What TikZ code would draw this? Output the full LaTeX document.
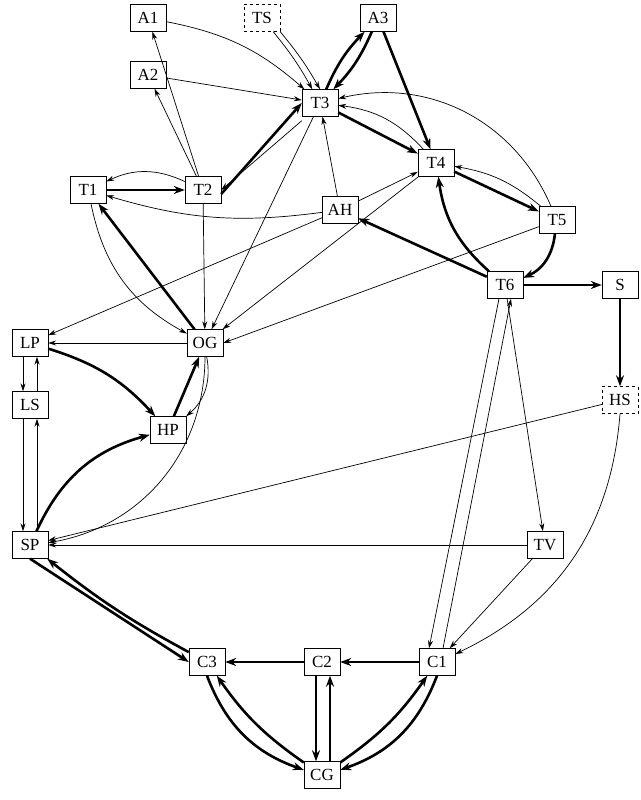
\documentclass[tikz,border=0pt]{standalone}
\usepackage{fontspec}
\setmainfont{Liberation Serif}
\usetikzlibrary{arrows.meta}
\begin{document}
\begin{tikzpicture}[x=1pt,y=-1pt,
 nd/.style={draw,fill=white,font=\fontsize{17}{19}\selectfont,minimum width=36pt,minimum height=27pt,inner sep=2pt},
 dnd/.style={nd,dashed},
 tn/.style={-{Stealth[length=8pt,width=5pt]},line width=0.7pt},
 tk/.style={-{Stealth[length=11pt,width=8pt]},line width=2.6pt}]
\useasboundingbox (0,0) rectangle (640,800);
\node[nd] (A1) at (148,18) {A1};
\node[dnd] (TS) at (262,18) {TS};
\node[nd] (A3) at (378,18) {A3};
\node[nd] (A2) at (148,75) {A2};
\node[nd] (T3) at (320,103) {T3};
\node[nd] (T1) at (88,190) {T1};
\node[nd] (T2) at (203,190) {T2};
\node[nd] (AH) at (340,210) {AH};
\node[nd] (T4) at (436,163) {T4};
\node[nd] (T5) at (557,220) {T5};
\node[nd] (T6) at (505,285) {T6};
\node[nd] (S) at (620,285) {S};
\node[nd] (LP) at (30,343) {LP};
\node[nd] (OG) at (205,343) {OG};
\node[dnd] (HS) at (620,400) {HS};
\node[nd] (LS) at (30,405) {LS};
\node[nd] (HP) at (168,430) {HP};
\node[nd] (SP) at (30,545) {SP};
\node[nd] (TV) at (545,545) {TV};
\node[nd] (C3) at (207,662) {C3};
\node[nd] (C2) at (322,662) {C2};
\node[nd] (C1) at (437,662) {C1};
\node[nd] (CG) at (322,775) {CG};
% thin
\draw[tn] (T2) -- (A1);
\draw[tn] (A1) to[bend left=15] (T3);
\draw[tn] (A2) -- (T3);
\draw[tn] (T2) -- (A2);
\draw[tn] (TS) to[bend left=5] (T3);
\draw[tn] (TS.south east) to[bend left=5] (T3.north);
\draw[tn] (T4) to[bend right=20] (T3);
\draw[tn] ([yshift=-4pt]T3.south west) -- (T2.east);
\draw[tn] (T2) to[bend right=25] (T1);
\draw[tn] (AH) to[bend left=12] (T1);
\draw[tn] (AH) -- (T3);
\draw[tn] (AH) -- (T4);
\draw[tn] (T4) -- (OG);
\draw[tn] (T3) -- (OG);
\draw[tn] (T2) -- (OG);
\draw[tn] (T1) to[bend right=25] (OG);
\draw[tn] (T5) to[bend right=40] (T3);
\draw[tn] (T5) to[bend left=-15] (T4);
\draw[tn] (T5) -- (OG.east);
\draw[tn] (AH) -- (LP);
\draw[tn] (OG) -- (LP);
\draw[tn] (OG) to[bend left=30] (HP);
\draw[tn] (OG.south) to[bend left=40] (SP);
\draw[tn] ([xshift=-7pt]LP.south) -- ([xshift=-7pt]LS.north);
\draw[tn] ([xshift=7pt]LS.north) -- ([xshift=7pt]LP.south);
\draw[tn] ([xshift=-7pt]LS.south) -- ([xshift=-7pt]SP.north);
\draw[tn] ([xshift=7pt]SP.north) -- ([xshift=7pt]LS.south);
\draw[tn] (HS) -- (SP);
\draw[tn] (TV) -- (SP);
\draw[tn] (HS.south) to[bend left=30] (C1);
\draw[tn] (T6) -- (TV);
\draw[tn] ([xshift=-6pt]T6.south) -- ([xshift=-8pt]C1.north);
\draw[tn] ([xshift=6pt]C1.north) -- ([xshift=6pt]T6.south);
\draw[tn] (TV) -- (C1);
% thick
\draw[tk] (T3) to[bend left=10] (A3);
\draw[tk] (A3) to[bend left=10] (T3);
\draw[tk] (A3) -- (T4);
\draw[tk] (T3) -- (T4);
\draw[tk] ([yshift=-4pt]T2.east) -- (T3.west);
\draw[tk] (T1) -- (T2);
\draw[tk] (OG) -- (T1);
\draw[tk] (T4) -- (T5);
\draw[tk] (T5) to[bend left=30] (T6);
\draw[tk] (T6) to[bend left=20] (T4);
\draw[tk] (T6) -- (AH);
\draw[tk] (T6) -- (S);
\draw[tk] (S) -- (HS);
\draw[tk] (LP) to[bend left=15] (HP);
\draw[tk] (HP) -- (OG);
\draw[tk] (SP) to[bend left=25] (HP);
\draw[tk] (C1) -- (C2);
\draw[tk] (C2) -- (C3);
\draw[tk] (SP.south) -- (C3.west);
\draw[tk] (C3) to[bend left=5] (SP);
\draw[tk] (C3.south) to[bend right=25] (CG);
\draw[tk] (CG) to[bend left=10] (C3);
\draw[tk] ([xshift=-6pt]C2.south) -- ([xshift=-6pt]CG.north);
\draw[tk] ([xshift=8pt]CG.north) -- ([xshift=8pt]C2.south);
\draw[tk] (C1.south) to[bend left=25] (CG);
\draw[tk] (CG) to[bend right=10] (C1);
\end{tikzpicture}
\end{document}
